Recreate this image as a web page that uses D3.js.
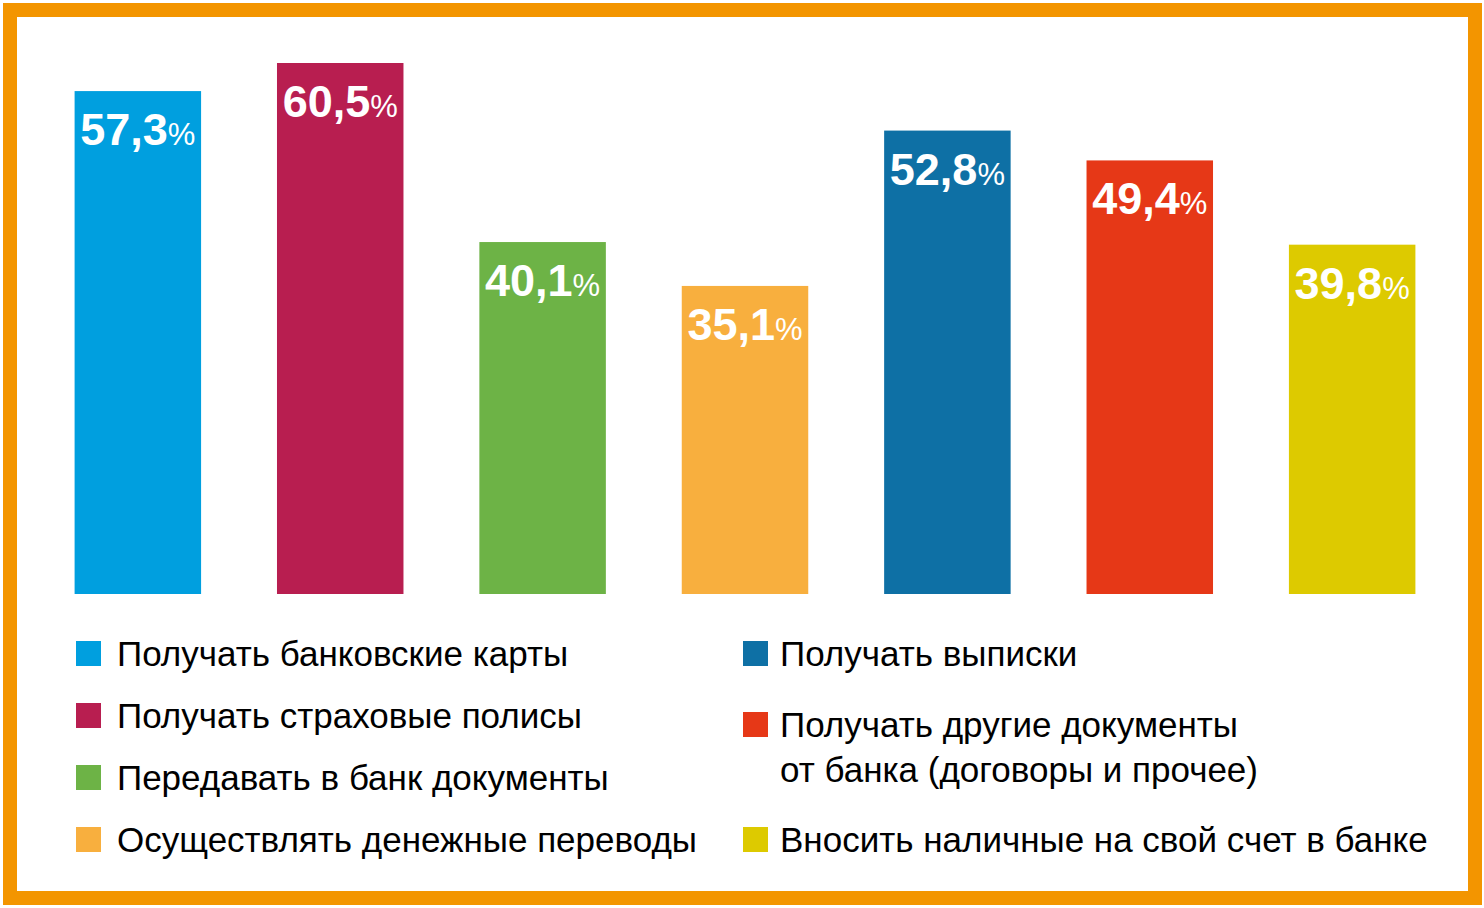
<!DOCTYPE html>
<html>
<head>
<meta charset="utf-8">
<script src="https://cdn.jsdelivr.net/npm/d3@7"></script>
<style>
  body { margin: 0; background: #fff; }
  svg { display: block; font-family: "Liberation Sans", Arial, sans-serif; }
</style>
</head>
<body>
<svg id="chart" width="1484" height="908"></svg>
<script>
// data
const categories = [
  "Получать банковские карты",
  "Получать страховые полисы",
  "Передавать в банк документы",
  "Осуществлять денежные переводы",
  "Получать выписки",
  "Получать другие документы|от банка (договоры и прочее)",
  "Вносить наличные на свой счет в банке"
];
const values = [57.3, 60.5, 40.1, 35.1, 52.8, 49.4, 39.8];
const colors = ["#009fdf", "#b81e50", "#6db346", "#f8af3e", "#0e70a5", "#e63817", "#ddca00"];

const svg = d3.select("#chart");

// orange frame
svg.append("rect")
  .attr("x", 10).attr("y", 10)
  .attr("width", 1465).attr("height", 888)
  .attr("fill", "#fff")
  .attr("stroke", "#f39500")
  .attr("stroke-width", 14);

const x = d3.scaleBand()
  .domain(d3.range(values.length))
  .range([24, 1466])
  .paddingInner(0.375)
  .paddingOuter(0.25);

const y = d3.scaleLinear()
  .domain([0, 60.5])
  .range([594, 63]);

const bars = svg.append("g")
  .selectAll("g")
  .data(values)
  .join("g");

bars.append("rect")
  .attr("x", (d, i) => x(i))
  .attr("y", d => y(d))
  .attr("width", x.bandwidth())
  .attr("height", d => y(0) - y(d))
  .attr("fill", (d, i) => colors[i]);

const lbl = bars.append("text")
  .attr("x", (d, i) => x(i) + x.bandwidth() / 2)
  .attr("y", d => y(d) + 54)
  .attr("text-anchor", "middle")
  .attr("fill", "#fff");

lbl.append("tspan")
  .attr("font-size", 45)
  .attr("font-weight", "bold")
  .text(d => d3.format(".1f")(d).replace(".", ","));
lbl.append("tspan")
  .attr("font-size", 31)
  .text("%");

// legend
const legendPos = [
  { x: 76, y: 666, dx: 41 }, { x: 76, y: 728, dx: 41 }, { x: 76, y: 790, dx: 41 }, { x: 76, y: 852, dx: 41 },
  { x: 743, y: 666, dx: 37 }, { x: 743, y: 737, dx: 37 }, { x: 743, y: 852, dx: 37 }
];

const legend = svg.append("g")
  .selectAll("g")
  .data(categories)
  .join("g")
  .attr("transform", (d, i) => `translate(${legendPos[i].x},${legendPos[i].y})`);

legend.append("rect")
  .attr("x", 0).attr("y", -25)
  .attr("width", 25).attr("height", 25)
  .attr("fill", (d, i) => colors[i]);

legend.append("text")
  .attr("font-size", 35)
  .attr("fill", "#000")
  .each(function(d, i) {
    const lines = d.split("|");
    const t = d3.select(this);
    lines.forEach((l, k) => {
      t.append("tspan").attr("x", legendPos[i].dx).attr("dy", k === 0 ? 0 : 45).text(l);
    });
  });
</script>
</body>
</html>
